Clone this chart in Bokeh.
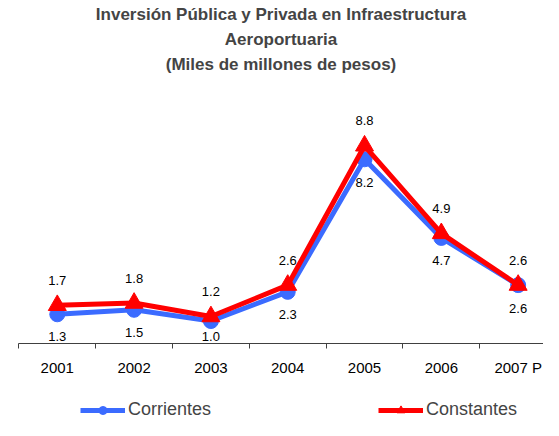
from bokeh.plotting import figure
from bokeh.layouts import column
from bokeh.models import FixedTicker, Title, Legend, LegendItem, ColumnDataSource
from bokeh.core.properties import value
from bokeh.embed import file_html
from bokeh.resources import INLINE

years = ["2001", "2002", "2003", "2004", "2005", "2006", "2007 P"]
corrientes = [1.3, 1.5, 1.0, 2.3, 8.2, 4.7, 2.6]
constantes = [1.7, 1.8, 1.2, 2.6, 8.8, 4.9, 2.6]
corr_labels = ["1.3", "1.5", "1.0", "2.3", "8.2", "4.7", "2.6"]
const_labels = ["1.7", "1.8", "1.2", "2.6", "8.8", "4.9", "2.6"]
title_lines = ["Inversión Pública y Privada en Infraestructura",
               "Aeroportuaria",
               "(Miles de millones de pesos)"]

FONT = "Liberation Sans"
BLUE = "#3B6BFF"
RED = "#FF0000"
Y_END = 11.93
PX_PER_UNIT = 22.5  # approx. vertical scale, used to keep low labels inside the plot

x = list(range(len(years)))
# labels below the blue points are pulled up near the axis (as spreadsheet charts do)
corr_offsets = [min(23.0, v * PX_PER_UNIT - 7.0) for v in corrientes]
src = ColumnDataSource(dict(x=x, corr=corrientes, const=constantes,
                            cl=corr_labels, kl=const_labels, coff=corr_offsets))

p = figure(width=543, height=394, output_backend="svg", toolbar_location=None,
           x_range=(-0.505, 6.33), y_range=(0, Y_END), y_axis_location=None,
           min_border_left=18, min_border_right=0, min_border_top=69, min_border_bottom=51)
p.outline_line_color = None
p.xgrid.visible = False
p.ygrid.visible = False

p.title.text = title_lines[0]
p.title.align = "center"
p.title.offset = 6
p.title.text_font = FONT
p.title.text_font_size = "17px"
p.title.text_font_style = "bold"
p.title.standoff = 4
for line in [title_lines[2], title_lines[1]]:
    p.add_layout(Title(text=line, align="center", text_font=FONT, standoff=4, offset=6,
                       text_font_size="17px", text_font_style="bold"), "above")

ax = p.xaxis[0]
ax.ticker = FixedTicker(ticks=x, minor_ticks=[i - 0.5 for i in range(len(years) + 1)])
ax.major_label_overrides = {i: y for i, y in zip(x, years)}
ax.major_tick_in = 0
ax.major_tick_out = 0
ax.minor_tick_in = 0
ax.minor_tick_out = 5
ax.minor_tick_line_color = "#404040"
ax.axis_line_color = "#404040"
ax.major_label_text_font = FONT
ax.major_label_text_font_size = "15px"
ax.major_label_text_color = "black"
ax.major_label_standoff = 10

p.line("x", "corr", source=src, line_color=BLUE, line_width=5)
p.scatter("x", "corr", source=src, marker="circle", size=15,
          fill_color=BLUE, line_color=BLUE)
p.line("x", "const", source=src, line_color=RED, line_width=5)
p.scatter("x", "const", source=src, marker="triangle", size=18,
          fill_color=RED, line_color=RED)

p.text("x", "const", text="kl", source=src, y_offset=-25, text_align="center",
       text_baseline="middle", text_font=value(FONT), text_font_size="13px",
       text_color="black")
p.text("x", "corr", text="cl", source=src, y_offset="coff", text_align="center",
       text_baseline="middle", text_font=value(FONT), text_font_size="13px",
       text_color="black")

# legend strip below the chart
lg = figure(width=543, height=26, output_backend="svg", toolbar_location=None,
            x_range=(100, 101), y_range=(100, 101),
            x_axis_location=None, y_axis_location=None,
            min_border_left=0, min_border_right=0, min_border_top=0, min_border_bottom=0)
lg.outline_line_color = None
lg.xgrid.visible = False
lg.ygrid.visible = False
r1 = lg.line("x", "corr", source=src, line_color=BLUE, line_width=5)
s1 = lg.scatter("x", "corr", source=src, marker="circle", size=15,
                fill_color=BLUE, line_color=BLUE)
r2 = lg.line("x", "const", source=src, line_color=RED, line_width=5)
s2 = lg.scatter("x", "const", source=src, marker="triangle", size=18,
                fill_color=RED, line_color=RED)
legend = Legend(items=[LegendItem(label="Corrientes", renderers=[r1, s1]),
                       LegendItem(label="Constantes", renderers=[r2, s2])],
                orientation="horizontal", location=(62, 0),
                glyph_width=45, glyph_height=20, label_height=20,
                label_standoff=3, spacing=167,
                label_text_font=FONT, label_text_font_size="18px",
                border_line_color=None, background_fill_alpha=0,
                margin=0, padding=0)
lg.add_layout(legend)

layout = column(p, lg, spacing=0)
open("out.html", "w").write(file_html(layout, INLINE))
